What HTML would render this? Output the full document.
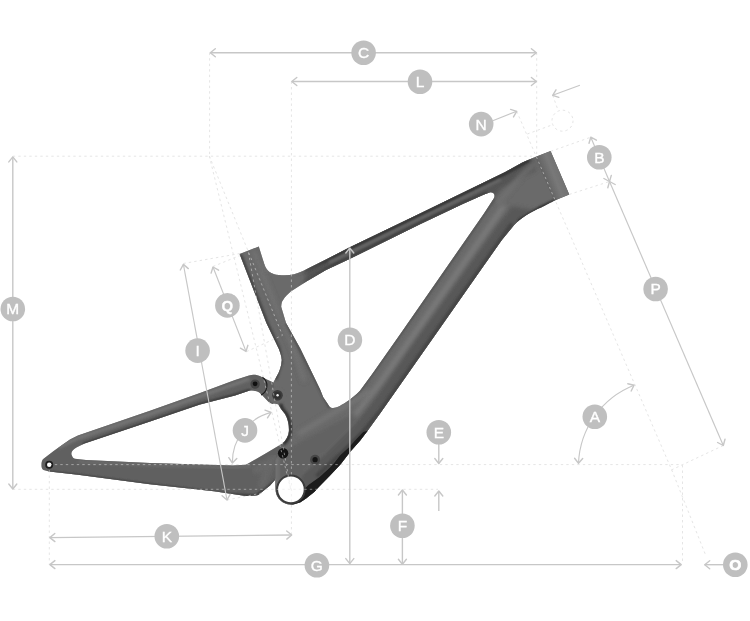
<!DOCTYPE html>
<html><head><meta charset="utf-8"><title>Frame geometry</title>
<style>
html,body{margin:0;padding:0;background:#fff}
svg{display:block;font-family:"Liberation Sans",sans-serif}
</style></head><body>
<svg width="750" height="621" viewBox="0 0 750 621">
<rect width="750" height="621" fill="#fff"/>
<defs><clipPath id="cf"><path d="M239.6,254 L258.8,246.5 L264.4,264.4 C266.5,271 271,274 279,275 C288,276 296,274.5 303,271 L326,259.6 L349.3,247.5 L420,213.6 L505.3,172 L522.4,162.4 L535.2,157 L550.6,151.1 L569.3,194.4 L554,200.8 C548,204 545,205.5 541.6,207.2 C532,211 520,218 513.9,225.3 L501.8,240 L482.1,268 L436.9,332.4 L381.1,412 L367.6,430.8 L360,440.8 L350.4,451.6 L340.4,464.4 L330,475.4 L318,487.7 L314.8,491.4 L306,498.6 L300.4,502.2 L294,504.2 L291,504.4 A15.2,15.2 0 0 1 275.6,489 L275.6,460 L279,452 L282,443.7 C286,440.5 288.5,436 288.9,430.9 C289.2,424 287.5,418.5 285,414 L281,409 L278,404 L273.3,382.4 L276.5,376.8 C279.5,372 281.5,366 281.8,360 C281.5,356 280,352 278.8,348.8 L266.4,323 Z M281.2,306.8 C281.5,303 282,301 282.8,300.4 C285,297 288,294 290.8,291.6 L306.8,281.2 L326,270 L350,258.8 L420,224.3 L462.7,204 L484,194.4 L489.5,192.4 C493.5,191.6 496,194.5 493.8,198.5 L484,213.6 L465.6,240 L400,334.4 L372.8,373.2 L360,390.8 C356,395 352,398 348.8,400.4 C343,404 340,406 336,407.6 C333,408.5 331,408 329.6,406.8 L323.2,397.2 L320,389.2 L300.4,348.8 L286,323 Z" clip-rule="evenodd"/></clipPath><clipPath id="cr"><path d="M41.5,465.2 C41.5,462 42,460 43.6,458.8 L54,450.8 L70,439.6 L78,435.6 L110,424.4 L150,410.8 L200,392.9 L235,380 L249,375.4 C252,374.5 254,374.5 256.5,375 C259,375.5 260.5,376.3 262,377.3 L273.3,382.4 L282,392 L277,402 L272.5,404 C270,403.4 268.2,401.8 266.7,400 L262,395 C260,393 258.5,392 256.5,391.3 C254,390.5 251.5,390.3 249,390.8 L235,395.5 L200,404.6 L150,421.6 L84.4,443.6 L76.4,447.6 C72,450 70.5,453 71.9,455.6 C72.5,457.5 73.5,458.5 74.8,458.8 L86,459.9 L150,463.1 L233.2,465.6 L246,464.8 L266,453.3 L282,443.7 L290,455 L284,462 L275,480 L270,485.6 L262,492 C260,494 258,495.4 255.6,495.4 L246,496 L214,491.2 L150,484.2 L78,474.8 L49.2,471.6 L43.6,470 C42,469 41.5,467.5 41.5,465.2 Z"/></clipPath><filter id="b1" x="-20%" y="-20%" width="140%" height="140%"><feGaussianBlur stdDeviation="1.1"/></filter><filter id="b2" x="-20%" y="-20%" width="140%" height="140%"><feGaussianBlur stdDeviation="2.2"/></filter><linearGradient id="ht" gradientUnits="userSpaceOnUse" x1="536" y1="170" x2="566" y2="158"><stop offset="0" stop-color="#585858"/><stop offset="0.45" stop-color="#797979"/><stop offset="1" stop-color="#686868"/></linearGradient><linearGradient id="t1" gradientUnits="userSpaceOnUse" x1="296" y1="0" x2="336" y2="0"><stop offset="0" stop-color="#343434" stop-opacity="0"/><stop offset="1" stop-color="#343434"/></linearGradient><linearGradient id="t2" gradientUnits="userSpaceOnUse" x1="298" y1="0" x2="336" y2="0"><stop offset="0" stop-color="#404040" stop-opacity="0"/><stop offset="1" stop-color="#404040"/></linearGradient></defs>
<g id="frame">
<path d="M41.5,465.2 C41.5,462 42,460 43.6,458.8 L54,450.8 L70,439.6 L78,435.6 L110,424.4 L150,410.8 L200,392.9 L235,380 L249,375.4 C252,374.5 254,374.5 256.5,375 C259,375.5 260.5,376.3 262,377.3 L273.3,382.4 L282,392 L277,402 L272.5,404 C270,403.4 268.2,401.8 266.7,400 L262,395 C260,393 258.5,392 256.5,391.3 C254,390.5 251.5,390.3 249,390.8 L235,395.5 L200,404.6 L150,421.6 L84.4,443.6 L76.4,447.6 C72,450 70.5,453 71.9,455.6 C72.5,457.5 73.5,458.5 74.8,458.8 L86,459.9 L150,463.1 L233.2,465.6 L246,464.8 L266,453.3 L282,443.7 L290,455 L284,462 L275,480 L270,485.6 L262,492 C260,494 258,495.4 255.6,495.4 L246,496 L214,491.2 L150,484.2 L78,474.8 L49.2,471.6 L43.6,470 C42,469 41.5,467.5 41.5,465.2 Z" fill="#616161"/>
<g clip-path="url(#cr)"><path d="M60,446.5 L78,438 L150,414 L248,379.3" fill="none" stroke="#737373" stroke-width="4" filter="url(#b1)" opacity="1" stroke-linecap="round"/><path d="M84,444 L150,421.3 L200,404.2 L235,395 L249,390.5" fill="none" stroke="#3c3c3c" stroke-width="3" filter="url(#b1)" opacity="1" stroke-linecap="round"/><path d="M80,462 L150,465 L234,467.5 L250,466" fill="none" stroke="#6a6a6a" stroke-width="3" filter="url(#b1)" opacity="1" stroke-linecap="round"/><path d="M49,472.5 L78,475.5 L150,485 L230,494.6 L256,496 L276,481" fill="none" stroke="#3c3c3c" stroke-width="3" filter="url(#b1)" opacity="1" stroke-linecap="round"/><path d="M256,470 L272,460 L262,485" fill="none" stroke="#6b6b6b" stroke-width="8" filter="url(#b2)" opacity="0.8" stroke-linecap="round"/></g>
<path d="M239.6,254 L258.8,246.5 L264.4,264.4 C266.5,271 271,274 279,275 C288,276 296,274.5 303,271 L326,259.6 L349.3,247.5 L420,213.6 L505.3,172 L522.4,162.4 L535.2,157 L550.6,151.1 L569.3,194.4 L554,200.8 C548,204 545,205.5 541.6,207.2 C532,211 520,218 513.9,225.3 L501.8,240 L482.1,268 L436.9,332.4 L381.1,412 L367.6,430.8 L360,440.8 L350.4,451.6 L340.4,464.4 L330,475.4 L318,487.7 L314.8,491.4 L306,498.6 L300.4,502.2 L294,504.2 L291,504.4 A15.2,15.2 0 0 1 275.6,489 L275.6,460 L279,452 L282,443.7 C286,440.5 288.5,436 288.9,430.9 C289.2,424 287.5,418.5 285,414 L281,409 L278,404 L273.3,382.4 L276.5,376.8 C279.5,372 281.5,366 281.8,360 C281.5,356 280,352 278.8,348.8 L266.4,323 Z M281.2,306.8 C281.5,303 282,301 282.8,300.4 C285,297 288,294 290.8,291.6 L306.8,281.2 L326,270 L350,258.8 L420,224.3 L462.7,204 L484,194.4 L489.5,192.4 C493.5,191.6 496,194.5 493.8,198.5 L484,213.6 L465.6,240 L400,334.4 L372.8,373.2 L360,390.8 C356,395 352,398 348.8,400.4 C343,404 340,406 336,407.6 C333,408.5 331,408 329.6,406.8 L323.2,397.2 L320,389.2 L300.4,348.8 L286,323 Z" fill="#6a6a6a" fill-rule="evenodd"/>
<g clip-path="url(#cf)"><path d="M306,260 L349,238 L420,204 L505,163 L530,150 L536,170 L502,188 L489,203 L462,212 L420,232 L350,267 L312,290 L304,297 Z" fill="#545454" filter="url(#b2)" opacity="1"/><path d="M560,216 L512,206 L497,225 L412.3,343 L376,396 L354,424 L326,452 L300,476 L300,520 L400,520 L600,230 Z" fill="#585858" filter="url(#b2)" opacity="1"/><path d="M376,396 L352,414 L322,430 L296,444 L284,452 L270,470 L270,520 L300,520 L300,476 L326,452 L354,424 Z" fill="#646464" filter="url(#b1)" opacity="1"/><path d="M273,458 L279.5,458 L279.5,487 L273,487 Z" fill="#727272" filter="url(#b1)" opacity="0.9"/><path d="M535.2,157 L550.6,151.1 L569.3,194.4 L554,200.8 Z" fill="url(#ht)"/><path d="M296,275 L326,261 L349.3,249 L420,215 L505.3,173.4 L528,161" fill="none" stroke="url(#t1)" stroke-width="3.6" filter="url(#b1)" opacity="1" stroke-linecap="round"/><path d="M298,286 L326,268.5 L350,257 L420,222.5 L462.7,202.5 L486,193" fill="none" stroke="url(#t2)" stroke-width="2.6" filter="url(#b1)" opacity="1" stroke-linecap="round"/><path d="M330,262 L420,218.5 L500,180" fill="none" stroke="#686868" stroke-width="2.6" filter="url(#b1)" opacity="1" stroke-linecap="round"/><path d="M503,207 L382,380 L356,414" fill="none" stroke="#7c7c7c" stroke-width="5" filter="url(#b2)" opacity="1" stroke-linecap="round"/><path d="M511,225 L436.5,331 L380.5,411 L364,431 L340,455 L318,475" fill="none" stroke="#474747" stroke-width="4.5" filter="url(#b1)" opacity="1" stroke-linecap="round"/><path d="M494,200 L466,240.6 L400,335 L372,374.5 L360,391 L348,401" fill="none" stroke="#545454" stroke-width="2.2" filter="url(#b1)" opacity="1" stroke-linecap="round"/><path d="M499,202 L520,177 L533,165" fill="none" stroke="#727272" stroke-width="5" filter="url(#b2)" opacity="0.9" stroke-linecap="round"/><path d="M520,221 L541,208 L554,202" fill="none" stroke="#303030" stroke-width="4.5" filter="url(#b1)" opacity="1" stroke-linecap="round"/><path d="M241,256 L267,323 L279,349 L281,362 L276,378" fill="none" stroke="#444444" stroke-width="3.4" filter="url(#b1)" opacity="1" stroke-linecap="round"/><path d="M254,252 L278,312 L294,350 L304,380" fill="none" stroke="#747474" stroke-width="4.5" filter="url(#b2)" opacity="0.9" stroke-linecap="round"/><path d="M262,262 L268,270 L280,273 L300,271" fill="none" stroke="#737373" stroke-width="4" filter="url(#b2)" opacity="0.8" stroke-linecap="round"/><path d="M368,392 L340,409 L300,433" fill="none" stroke="#787878" stroke-width="5" filter="url(#b2)" opacity="0.85" stroke-linecap="round"/><path d="M329,407 L300,350 L287,324" fill="none" stroke="#505050" stroke-width="2.4" filter="url(#b1)" opacity="1" stroke-linecap="round"/></g>
<path d="M367.6,430.8 L360,440.8 L350.4,451.6 L340.4,464.4 L330,475.4 L318,487.7 L314.8,491.4 L306,498.6 L300.4,502.2 L294,504.2 L291,504.4 L297,501 L302,494 L304.4,489 L308.4,485 L319.6,477 L330,467.4 L334,463.2 L340,455.6 L348.8,447.6 L356,439.6 L363.2,432 Z" fill="#1c1c1c"/>
<circle cx="290.9" cy="489.4" r="13.8" fill="#fff" stroke="#3c3c3c" stroke-width="2"/>
<circle cx="277.5" cy="395.3" r="8.9" fill="#6a6a6a"/>
<path d="M262.5,377.3 A10.3,10.3 0 0 1 261.1,395" fill="none" stroke="#1c1c1c" stroke-width="1.1"/>
<circle cx="277.5" cy="395.3" r="5.3" fill="#3c3c3c"/><circle cx="277.5" cy="395.3" r="3.4" fill="#303030"/><circle cx="277.6" cy="395.2" r="1.2" fill="#eee"/>
<circle cx="255.1" cy="384.1" r="4.7" fill="#444"/><circle cx="255.1" cy="383.8" r="2.4" fill="#111"/>
<g clip-path="url(#cf)"><path d="M280.5,404 L282.5,409 L286.5,414 C289,418.5 290.7,424 290.4,430.9 C290,436 287.5,440.5 283.5,444.2" fill="none" stroke="#333" stroke-width="3.4" filter="url(#b1)"/></g>
<circle cx="283.1" cy="453.3" r="5.2" fill="#121212"/>
<circle cx="315.1" cy="459.7" r="5" fill="#474747"/><circle cx="315.1" cy="459.7" r="2.6" fill="#151515"/>
<circle cx="49.2" cy="464.7" r="4" fill="#1e1e1e"/><circle cx="49.2" cy="464.7" r="2.2" fill="#fff"/>
</g>
<polyline points="209.6,52.7 209.6,156" fill="none" stroke="#e5e5e5" stroke-width="1" stroke-dasharray="2.4 3.1"/>
<polyline points="291.4,81.5 291.4,534" fill="none" stroke="#e5e5e5" stroke-width="1" stroke-dasharray="2.4 3.1"/>
<polyline points="12.8,156.2 535,156.2" fill="none" stroke="#e5e5e5" stroke-width="1" stroke-dasharray="2.4 3.1"/>
<polyline points="536.7,52.7 536.7,156" fill="none" stroke="#e5e5e5" stroke-width="1" stroke-dasharray="2.4 3.1"/>
<polyline points="49.3,464.6 682,464.6" fill="none" stroke="#e5e5e5" stroke-width="1" stroke-dasharray="2.4 3.1"/>
<polyline points="12.8,489.3 438,489.3" fill="none" stroke="#e5e5e5" stroke-width="1" stroke-dasharray="2.4 3.1"/>
<polyline points="49.3,470 49.3,565" fill="none" stroke="#e5e5e5" stroke-width="1" stroke-dasharray="2.4 3.1"/>
<polyline points="682.5,465 682.5,562" fill="none" stroke="#e5e5e5" stroke-width="1" stroke-dasharray="2.4 3.1"/>
<polyline points="209.3,156 290.7,489.3" fill="none" stroke="#e5e5e5" stroke-width="1" stroke-dasharray="2.4 3.1"/>
<polyline points="209.3,156 282.5,335.3" fill="none" stroke="#e5e5e5" stroke-width="1" stroke-dasharray="2.4 3.1"/>
<polyline points="248.4,252.4 290.7,489.3" fill="none" stroke="#e5e5e5" stroke-width="1" stroke-dasharray="2.4 3.1"/>
<polyline points="516.7,111.3 671.6,469.6 706,556" fill="none" stroke="#e5e5e5" stroke-width="1" stroke-dasharray="2.4 3.1"/>
<polyline points="550.8,151.3 590.8,137.2" fill="none" stroke="#e5e5e5" stroke-width="1" stroke-dasharray="2.4 3.1"/>
<polyline points="569.3,194.4 609.5,181.5" fill="none" stroke="#e5e5e5" stroke-width="1" stroke-dasharray="2.4 3.1"/>
<polyline points="671.3,470 723.3,445.5" fill="none" stroke="#e5e5e5" stroke-width="1" stroke-dasharray="2.4 3.1"/>
<polyline points="527.3,134 552.7,124.7" fill="none" stroke="#e5e5e5" stroke-width="1" stroke-dasharray="2.4 3.1"/>
<polyline points="552.7,95.3 558,110" fill="none" stroke="#e5e5e5" stroke-width="1" stroke-dasharray="2.4 3.1"/>
<circle cx="562.5" cy="120.7" r="10.5" fill="none" stroke="#e5e5e5" stroke-width="1" stroke-dasharray="2.4 3.1"/>
<polyline points="183.4,263.5 240,253.5" fill="none" stroke="#e5e5e5" stroke-width="1" stroke-dasharray="2.4 3.1"/>
<polyline points="213,266.5 240,255.5" fill="none" stroke="#e5e5e5" stroke-width="1" stroke-dasharray="2.4 3.1"/>
<polyline points="246.5,351.6 282.5,335.3" fill="none" stroke="#e5e5e5" stroke-width="1" stroke-dasharray="2.4 3.1"/>
<polyline points="227,500 262,493" fill="none" stroke="#e5e5e5" stroke-width="1" stroke-dasharray="2.4 3.1"/>
<use href="#frame" opacity="0.5"/>
<line x1="210.3" y1="52.7" x2="536.4" y2="52.7" stroke="#c7c7c7" stroke-width="1.4"/><polyline points="531.4,56.7 536.4,52.7 531.4,48.7" fill="none" stroke="#c7c7c7" stroke-width="1.4" stroke-linecap="round" stroke-linejoin="round"/><polyline points="215.3,48.7 210.3,52.7 215.3,56.7" fill="none" stroke="#c7c7c7" stroke-width="1.4" stroke-linecap="round" stroke-linejoin="round"/>
<line x1="291.8" y1="81.5" x2="536.4" y2="81.5" stroke="#c7c7c7" stroke-width="1.4"/><polyline points="531.4,85.5 536.4,81.5 531.4,77.5" fill="none" stroke="#c7c7c7" stroke-width="1.4" stroke-linecap="round" stroke-linejoin="round"/><polyline points="296.8,77.5 291.8,81.5 296.8,85.5" fill="none" stroke="#c7c7c7" stroke-width="1.4" stroke-linecap="round" stroke-linejoin="round"/>
<line x1="492.7" y1="120.7" x2="516.7" y2="111.3" stroke="#c7c7c7" stroke-width="1.15"/><polyline points="513.5,116.9 516.7,111.3 510.6,109.4" fill="none" stroke="#c7c7c7" stroke-width="1.4" stroke-linecap="round" stroke-linejoin="round"/>
<line x1="579.9" y1="85.2" x2="552.7" y2="95.3" stroke="#c7c7c7" stroke-width="1.15"/><polyline points="556.0,89.8 552.7,95.3 558.8,97.3" fill="none" stroke="#c7c7c7" stroke-width="1.4" stroke-linecap="round" stroke-linejoin="round"/>
<line x1="590.8" y1="137.2" x2="609.5" y2="181.5" stroke="#c7c7c7" stroke-width="1.15"/><polyline points="603.9,178.5 609.5,181.5 611.3,175.4" fill="none" stroke="#c7c7c7" stroke-width="1.4" stroke-linecap="round" stroke-linejoin="round"/><polyline points="596.4,140.2 590.8,137.2 589.0,143.3" fill="none" stroke="#c7c7c7" stroke-width="1.4" stroke-linecap="round" stroke-linejoin="round"/>
<line x1="609.5" y1="181.5" x2="723.3" y2="445.5" stroke="#c7c7c7" stroke-width="1.15"/><polyline points="717.6,442.5 723.3,445.5 725.0,439.3" fill="none" stroke="#c7c7c7" stroke-width="1.4" stroke-linecap="round" stroke-linejoin="round"/><polyline points="615.2,184.5 609.5,181.5 607.8,187.7" fill="none" stroke="#c7c7c7" stroke-width="1.4" stroke-linecap="round" stroke-linejoin="round"/>
<line x1="12.8" y1="156.9" x2="12.8" y2="489" stroke="#c7c7c7" stroke-width="1.4"/><polyline points="8.8,484.0 12.8,489.0 16.8,484.0" fill="none" stroke="#c7c7c7" stroke-width="1.4" stroke-linecap="round" stroke-linejoin="round"/><polyline points="16.8,161.9 12.8,156.9 8.8,161.9" fill="none" stroke="#c7c7c7" stroke-width="1.4" stroke-linecap="round" stroke-linejoin="round"/>
<line x1="183.4" y1="264.4" x2="227" y2="500" stroke="#c7c7c7" stroke-width="1.15"/><polyline points="222.1,495.8 227.0,500.0 230.1,494.4" fill="none" stroke="#c7c7c7" stroke-width="1.4" stroke-linecap="round" stroke-linejoin="round"/><polyline points="188.3,268.6 183.4,264.4 180.3,270.0" fill="none" stroke="#c7c7c7" stroke-width="1.4" stroke-linecap="round" stroke-linejoin="round"/>
<line x1="213" y1="267" x2="246" y2="351.4" stroke="#c7c7c7" stroke-width="1.15"/><polyline points="240.4,348.2 246.0,351.4 247.9,345.3" fill="none" stroke="#c7c7c7" stroke-width="1.4" stroke-linecap="round" stroke-linejoin="round"/><polyline points="218.6,270.2 213.0,267.0 211.1,273.1" fill="none" stroke="#c7c7c7" stroke-width="1.4" stroke-linecap="round" stroke-linejoin="round"/>
<line x1="349.8" y1="248" x2="349.8" y2="563.6" stroke="#c7c7c7" stroke-width="1.4"/><polyline points="345.8,558.6 349.8,563.6 353.8,558.6" fill="none" stroke="#c7c7c7" stroke-width="1.4" stroke-linecap="round" stroke-linejoin="round"/><polyline points="353.8,253.0 349.8,248.0 345.8,253.0" fill="none" stroke="#c7c7c7" stroke-width="1.4" stroke-linecap="round" stroke-linejoin="round"/>
<line x1="49.9" y1="564.6" x2="681.2" y2="564.6" stroke="#c7c7c7" stroke-width="1.4"/><polyline points="676.2,568.6 681.2,564.6 676.2,560.6" fill="none" stroke="#c7c7c7" stroke-width="1.4" stroke-linecap="round" stroke-linejoin="round"/><polyline points="54.9,560.6 49.9,564.6 54.9,568.6" fill="none" stroke="#c7c7c7" stroke-width="1.4" stroke-linecap="round" stroke-linejoin="round"/>
<line x1="49.9" y1="537.6" x2="291.7" y2="535" stroke="#c7c7c7" stroke-width="1.3"/><polyline points="286.8,539.1 291.7,535.0 286.7,531.0" fill="none" stroke="#c7c7c7" stroke-width="1.4" stroke-linecap="round" stroke-linejoin="round"/><polyline points="54.8,533.5 49.9,537.6 54.9,541.6" fill="none" stroke="#c7c7c7" stroke-width="1.4" stroke-linecap="round" stroke-linejoin="round"/>
<line x1="402.4" y1="490" x2="402.4" y2="564.3" stroke="#c7c7c7" stroke-width="1.4"/><polyline points="398.4,559.3 402.4,564.3 406.4,559.3" fill="none" stroke="#c7c7c7" stroke-width="1.4" stroke-linecap="round" stroke-linejoin="round"/><polyline points="406.4,495.0 402.4,490.0 398.4,495.0" fill="none" stroke="#c7c7c7" stroke-width="1.4" stroke-linecap="round" stroke-linejoin="round"/>
<line x1="438.8" y1="444" x2="438.8" y2="463.5" stroke="#c7c7c7" stroke-width="1.4"/><polyline points="434.8,458.5 438.8,463.5 442.8,458.5" fill="none" stroke="#c7c7c7" stroke-width="1.4" stroke-linecap="round" stroke-linejoin="round"/>
<line x1="438.8" y1="511" x2="438.8" y2="491" stroke="#c7c7c7" stroke-width="1.4"/><polyline points="442.8,496.0 438.8,491.0 434.8,496.0" fill="none" stroke="#c7c7c7" stroke-width="1.4" stroke-linecap="round" stroke-linejoin="round"/>
<line x1="723" y1="564.7" x2="704.7" y2="564.7" stroke="#c7c7c7" stroke-width="1.4"/><polyline points="709.7,560.7 704.7,564.7 709.7,568.7" fill="none" stroke="#c7c7c7" stroke-width="1.4" stroke-linecap="round" stroke-linejoin="round"/>
<path d="M634,385.2 A88,88 0 0 0 578.5,463.3" fill="none" stroke="#c7c7c7" stroke-width="1.15"/>
<polyline points="631.2,391.0 634.0,385.2 627.8,383.7" fill="none" stroke="#c7c7c7" stroke-width="1.4" stroke-linecap="round" stroke-linejoin="round"/>
<polyline points="574.6,458.2 578.5,463.3 582.7,458.5" fill="none" stroke="#c7c7c7" stroke-width="1.4" stroke-linecap="round" stroke-linejoin="round"/>
<path d="M271,412.4 A51.5,51.5 0 0 0 232.4,463" fill="none" stroke="#c7c7c7" stroke-width="1.15"/>
<polyline points="267.5,417.8 271.0,412.4 265.0,410.1" fill="none" stroke="#c7c7c7" stroke-width="1.4" stroke-linecap="round" stroke-linejoin="round"/>
<polyline points="228.8,457.7 232.4,463.0 236.8,458.4" fill="none" stroke="#c7c7c7" stroke-width="1.4" stroke-linecap="round" stroke-linejoin="round"/>
<circle cx="363.6" cy="52.7" r="12.3" fill="#bfbfbf"/><text x="363.6" y="58.1" text-anchor="middle" font-size="15.5" fill="#fff" stroke="#fff" stroke-width="0.35">C</text>
<circle cx="420" cy="81.7" r="12.3" fill="#bfbfbf"/><text x="420" y="87.10000000000001" text-anchor="middle" font-size="15.5" fill="#fff" stroke="#fff" stroke-width="0.35">L</text>
<circle cx="481.2" cy="124.1" r="12.3" fill="#bfbfbf"/><text x="481.2" y="129.5" text-anchor="middle" font-size="15.5" fill="#fff" stroke="#fff" stroke-width="0.35">N</text>
<circle cx="599.3" cy="157.2" r="12.3" fill="#bfbfbf"/><text x="599.3" y="162.6" text-anchor="middle" font-size="15.5" fill="#fff" stroke="#fff" stroke-width="0.35">B</text>
<circle cx="655.6" cy="289" r="12.3" fill="#bfbfbf"/><text x="655.6" y="294.4" text-anchor="middle" font-size="15.5" fill="#fff" stroke="#fff" stroke-width="0.35">P</text>
<circle cx="594.8" cy="416.7" r="12.3" fill="#bfbfbf"/><text x="594.8" y="422.09999999999997" text-anchor="middle" font-size="15.5" fill="#fff" stroke="#fff" stroke-width="0.35">A</text>
<circle cx="438.8" cy="432.2" r="12.3" fill="#bfbfbf"/><text x="438.8" y="437.59999999999997" text-anchor="middle" font-size="15.5" fill="#fff" stroke="#fff" stroke-width="0.35">E</text>
<circle cx="402.4" cy="525.7" r="12.3" fill="#bfbfbf"/><text x="402.4" y="531.1" text-anchor="middle" font-size="15.5" fill="#fff" stroke="#fff" stroke-width="0.35">F</text>
<circle cx="349.9" cy="339.9" r="12.3" fill="#bfbfbf"/><text x="349.9" y="345.29999999999995" text-anchor="middle" font-size="15.5" fill="#fff" stroke="#fff" stroke-width="0.35">D</text>
<circle cx="316.9" cy="565.3" r="12.3" fill="#bfbfbf"/><text x="316.9" y="570.6999999999999" text-anchor="middle" font-size="15.5" fill="#fff" stroke="#fff" stroke-width="0.35">G</text>
<circle cx="166.8" cy="536.3" r="12.3" fill="#bfbfbf"/><text x="166.8" y="541.6999999999999" text-anchor="middle" font-size="15.5" fill="#fff" stroke="#fff" stroke-width="0.35">K</text>
<circle cx="12.8" cy="309" r="12.3" fill="#bfbfbf"/><text x="12.8" y="314.4" text-anchor="middle" font-size="15.5" fill="#fff" stroke="#fff" stroke-width="0.35">M</text>
<circle cx="197.6" cy="350.6" r="12.3" fill="#bfbfbf"/><text x="197.6" y="356.0" text-anchor="middle" font-size="15.5" fill="#fff" stroke="#fff" stroke-width="0.35">I</text>
<circle cx="245" cy="430.4" r="12.3" fill="#bfbfbf"/><text x="245" y="435.79999999999995" text-anchor="middle" font-size="15.5" fill="#fff" stroke="#fff" stroke-width="0.35">J</text>
<circle cx="735.3" cy="564.7" r="12.3" fill="#bfbfbf"/><text x="735.3" y="570.3" text-anchor="middle" font-size="15.5" font-weight="bold" fill="#fff" stroke="#fff" stroke-width="0.7">O</text>
<circle cx="227.4" cy="305.4" r="12.3" fill="#bfbfbf"/><text x="227.4" y="310.6" text-anchor="middle" font-size="15" font-weight="bold" fill="#fff" stroke="#fff" stroke-width="0.3">Q</text>
</svg>
</body></html>
